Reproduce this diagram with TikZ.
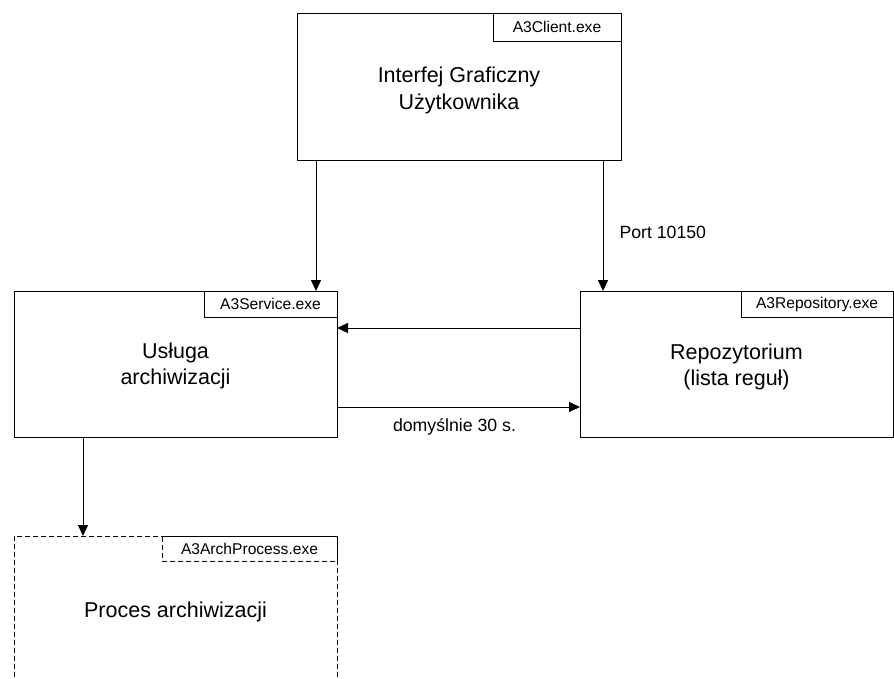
\documentclass[tikz,border=0pt]{standalone}
\usepackage{fontspec}
\setmainfont{Liberation Sans}
\usetikzlibrary{arrows.meta,calc}
\begin{document}
\begin{tikzpicture}[x=1pt,y=1pt,
  box/.style={draw, line width=1pt, anchor=north west, inner sep=0pt, outer sep=0pt,
    minimum height=146pt},
  txt/.style={align=center, inner sep=0pt, font=\fontsize{21.5}{26.5}\selectfont},
  tag/.style={draw, line width=1pt, anchor=north east, inner sep=0pt, outer sep=0pt,
    font=\fontsize{15.6}{18}\selectfont, minimum height=26pt},
  arr/.style={line width=1pt, -{Triangle[length=11pt,width=10pt]}},
  lbl/.style={font=\fontsize{17.7}{20}\selectfont, inner sep=0pt},
  dashedbox/.style={dash pattern=on 5pt off 3pt}]
\useasboundingbox (0,0) rectangle (894,-678);
\clip (0,0) rectangle (894,-678);
% main boxes
\node[box, minimum width=324pt, minimum height=147pt] (gui) at (297,-13) {};
\node[box, minimum width=323pt] (svc) at (14,-291) {};
\node[box, minimum width=313pt] (repo) at (580,-291) {};
\node[box, dashedbox, minimum width=323pt] (proc) at (14,-536) {};
% box texts
\node[txt] (guitxt) at ([yshift=-4pt]gui.center) {Interfej Graficzny\\Użytkownika};
\node[txt] (svctxt) at ([yshift=-2pt]svc.center) {Usługa\\archiwizacji};
\node[txt] (repotxt) at ([yshift=-3pt]repo.center) {Repozytorium\\(lista reguł)};
\node[txt] (proctxt) at ([yshift=-3pt]proc.center) {Proces archiwizacji};
% tags
\node[tag, minimum width=128pt, minimum height=28pt] (guitag) at (gui.north east) {A3Client.exe};
\node[tag, minimum width=133pt] (svctag) at (svc.north east) {A3Service.exe};
\node[tag, minimum width=152pt] (repotag) at (repo.north east) {A3Repository.exe};
\node[tag, dashedbox, minimum width=175pt, minimum height=25pt] (proctag) at (proc.north east) {A3ArchProcess.exe};
% connectors
\coordinate (g1) at ([xshift=19pt]gui.south west);
\coordinate (g2) at ([xshift=-18pt]gui.south east);
\draw[arr] (g1) -- (g1 |- svc.north);
\draw[arr] (g2) -- node[lbl, pos=0.55, anchor=west, xshift=16pt] (port) {Port 10150} (g2 |- repo.north);
\coordinate (r1) at ([yshift=-37pt]repo.north west);
\draw[arr] (r1) -- (r1 -| svc.east);
\coordinate (s1) at ([yshift=30pt]svc.south east);
\draw[arr] (s1) -- node[lbl, midway, yshift=-20pt, xshift=-4pt] (dflt) {domyślnie 30 s.} (s1 -| repo.west);
\coordinate (s2) at ([xshift=69pt]svc.south west);
\draw[arr] (s2) -- (s2 |- proc.north);
\end{tikzpicture}
\end{document}
